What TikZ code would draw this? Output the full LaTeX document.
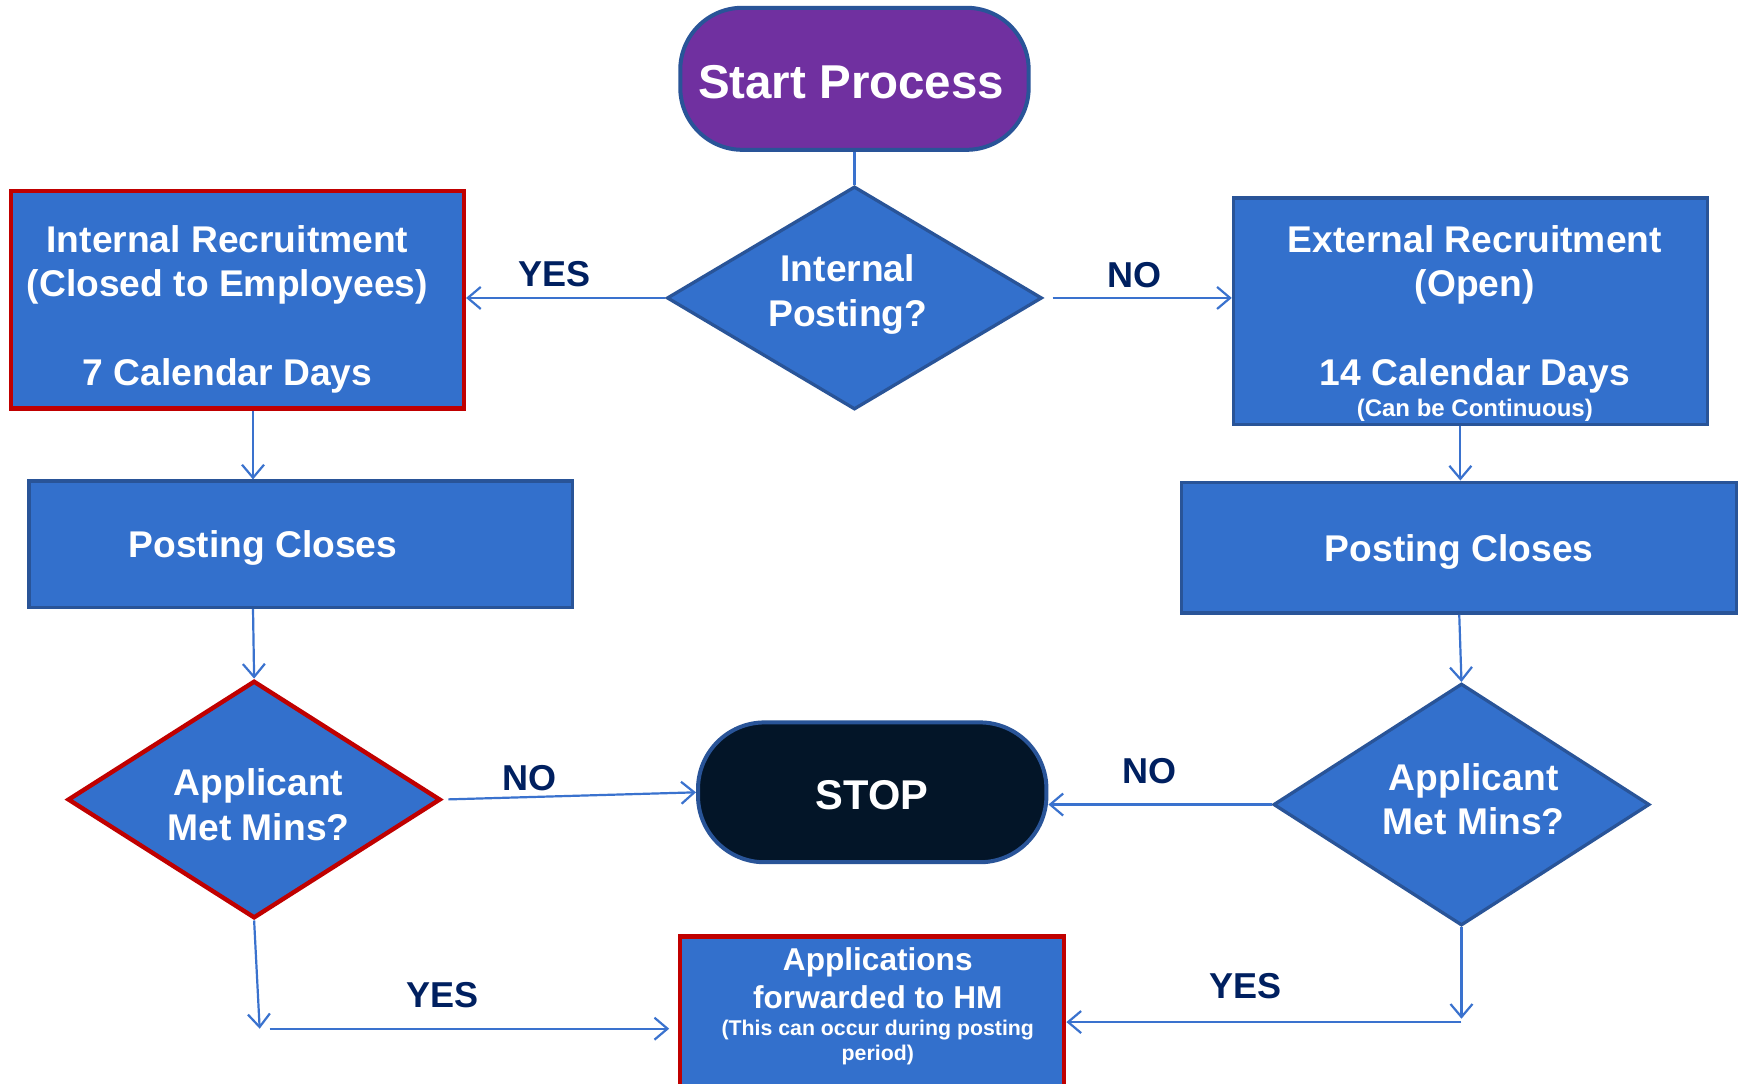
\documentclass[tikz,border=0pt]{standalone}
\usepackage{fontspec}
\setmainfont{Liberation Sans}
\usetikzlibrary{shapes.geometric,arrows.meta}
\newlength\uu \setlength\uu{1.1097pt}
\definecolor{boxblue}{RGB}{51,112,204}
\definecolor{bdblue}{RGB}{41,84,152}
\definecolor{redb}{RGB}{192,0,0}
\definecolor{startpurple}{RGB}{112,48,160}
\definecolor{stopnavy}{RGB}{3,21,40}
\definecolor{arrblue}{RGB}{58,114,206}
\definecolor{labnavy}{RGB}{0,32,96}
\newcommand\fmain{\fontsize{37.2pt}{44.4pt}\selectfont\bfseries}
\newcommand\fstart{\fontsize{47.5pt}{52pt}\selectfont\bfseries}
\newcommand\fstop{\fontsize{41.6pt}{46pt}\selectfont\bfseries}
\newcommand\flab{\fontsize{36pt}{40pt}\selectfont\bfseries}
\newcommand\fapp{\fontsize{31.6pt}{37.7pt}\selectfont\bfseries}
\newcommand\fsmall{\fontsize{21.3pt}{25.5pt}\selectfont\bfseries}
\newcommand\fcont{\fontsize{24pt}{27pt}\selectfont\bfseries}
\begin{document}
\begin{tikzpicture}[x=1.1097pt,y=-1.1097pt,
  sbox/.style={rectangle, draw=bdblue, fill=boxblue, line width=3.3pt, inner sep=0},
  redframe/.style={draw=redb, line width=4.4pt},
  dec/.style={diamond, draw=bdblue, fill=boxblue, line width=3.3pt, inner sep=0},
  term/.style={rectangle, draw=bdblue, line width=4pt, inner sep=0, text=white},
  txt/.style={text=white, inner sep=0, align=center},
  lab/.style={text=labnavy, inner sep=0, font=\flab},
  arr/.style={draw=arrblue, line width=2.2pt, -{Straight Barb[length=13pt,width=22pt,line width=2.2pt]}},
  ln/.style={draw=arrblue, line width=2.2pt}]
\useasboundingbox (0,0) rectangle (1568,976);
\fill[white] (0,0) rectangle (1568,976);

% shapes
\node[term, fill=startpurple, minimum width=314\uu, minimum height=128\uu, rounded corners=56\uu] (start) at (770,71) {};
\node[dec, minimum width=338\uu, minimum height=201\uu] (ip) at (770,268.5) {};
\node[sbox, redframe, minimum width=408\uu, minimum height=196\uu] (ir) at (214,270) {};
\node[sbox, minimum width=427\uu, minimum height=204\uu] (er) at (1325,280.5) {};
\node[sbox, minimum width=490\uu, minimum height=114\uu] (pcL) at (271,490.5) {};
\node[sbox, minimum width=500\uu, minimum height=118\uu] (pcR) at (1315,493.5) {};
\node[dec, redframe, minimum width=336\uu, minimum height=214\uu] (amL) at (229,720.5) {};
\node[dec, minimum width=339\uu, minimum height=218\uu] (amR) at (1317,725) {};
\node[term, fill=stopnavy, minimum width=314\uu, minimum height=126\uu, rounded corners=60\uu] (stop) at (786,714) {};
\node[sbox, redframe, minimum width=346\uu, minimum height=160\uu] (app) at (786,924) {};

% texts
\node[txt, font=\fstart] (tstart) at (767,74) {Start Process};
\node[txt, font=\fstop] (tstop) at (786,716.5) {STOP};
\node[txt, font=\fmain] (tip) at (764,265.5) {Internal\\Posting?};
\node[txt, font=\fmain] (tir) at (205,278.5) {Internal Recruitment\\(Closed to Employees)\\[44.4pt]7 Calendar Days};
\node[txt, font=\fmain] (ter) at (1329,278.5) {External Recruitment\\(Open)\\[44.4pt]14 Calendar Days};
\node[txt, font=\fcont] (tcont) at (1329,370) {(Can be Continuous)};
\node[txt, font=\fmain] (tpcL) at (237,493.5) {Posting Closes};
\node[txt, font=\fmain] (tpcR) at (1315,497.5) {Posting Closes};
\node[txt, font=\fmain] (tamL) at (233,725) {Applicant\\Met Mins?};
\node[txt, font=\fmain] (tamR) at (1328,720) {Applicant\\Met Mins?};
\node[txt, font=\fapp] (tapp) at (791,881.5) {Applications\\forwarded to HM};
\node[txt, font=\fsmall] (tapps) at (791,939.5) {(This can occur during posting\\period)};

% labels
\node[lab] (lyes1) at (500,247) {YES};
\node[lab] (lno1) at (1022,248) {NO};
\node[lab] (lno2) at (477,701) {NO};
\node[lab] (lno3) at (1036,695) {NO};
\node[lab] (lyes2) at (399,897) {YES};
\node[lab] (lyes3) at (1122,889) {YES};

% connectors
\draw[ln] (start.south) -- (ip.north);
\draw[arr] (ip.west) -- (ip.west -| ir.east);
\draw[arr, shorten <=8\uu] (ip.east) -- (ip.east -| er.west);
\draw[arr] ([xshift=14\uu]ir.south) -- ([xshift=14\uu]ir.south |- pcL.north);
\draw[arr] ([xshift=-43\uu]pcL.south) -- (amL.north);
\draw[arr, shorten <=5\uu] (amL.east) -- (stop.west);
\draw[arr] (amR.west) -- (amR.west -| stop.east);
\draw[arr] ([xshift=-9\uu]er.south) -- ([xshift=-9\uu]er.south |- pcR.north);
\draw[arr] (pcR.south) -- (amR.north);
\coordinate (cR) at (1317,921);
\draw[arr, shorten >=3\uu] (amR.south) -- (cR);
\draw[arr] (cR) -- (cR -| app.east);
\coordinate (cL) at (234,927);
\draw[arr] (amL.south) -- (cL);
\draw[arr, shorten <=9\uu, shorten >=8\uu] (cL) -- (cL -| app.west);
\end{tikzpicture}
\end{document}
